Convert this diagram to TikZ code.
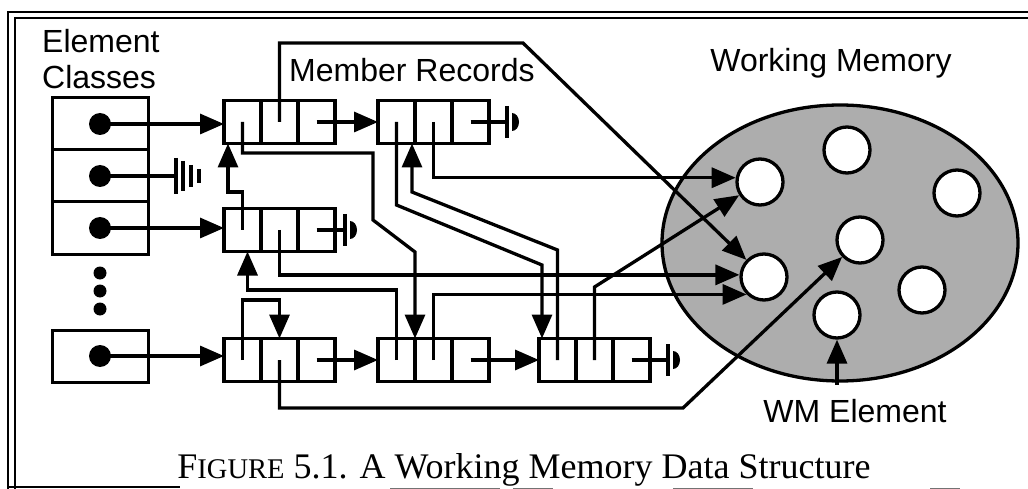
\documentclass[tikz,border=0pt]{standalone}
\usepackage{fontspec}
\setsansfont{Liberation Sans}
\newfontfamily\capfont{Liberation Serif}
\usetikzlibrary{positioning,shapes.geometric,arrows.meta}

\tikzset{
  cell/.style={draw, line width=3.3pt, minimum width=37pt, minimum height=43pt, inner sep=0pt, outer sep=0pt},
  clsbox/.style={draw, line width=3pt, minimum width=96pt, minimum height=52pt, inner sep=0pt, outer sep=0pt},
  link/.style={line width=3.3pt},
  ptr/.style={-{Triangle[length=24pt,width=20pt]}, line width=3.3pt},
  wme/.style={circle, draw, fill=white, line width=3.3pt, minimum size=46pt, inner sep=0pt},
  lbl/.style={font=\sffamily\fontsize{32}{36}\selectfont, inner sep=0pt},
  % nil pointer, drawn at the end of a line
  ground/.pic={
    \draw[line width=4pt] (0,-16) -- (0,16);
    \fill (5,-9) -- (5,9) arc[start angle=-90, end angle=90, x radius=7pt, y radius=9pt] -- cycle;
  },
  groundwide/.pic={
    \draw[line width=3.3pt] (0,-18) -- (0,18) (7,-15) -- (7,15) (15,-11) -- (15,11);
    \draw[line width=4pt] (23,-7) -- (23,7);
  }
}

% one member record = three cells #11, #12, #13
\newcommand{\memrec}[2]{%
  \node[cell] (#11) at #2 {};
  \node[cell, right=0pt of #11] (#12) {};
  \node[cell, right=0pt of #12] (#13) {};
}

\begin{document}
\begin{tikzpicture}[x=1pt,y=-1pt]
  \useasboundingbox (0,0) rectangle (1028,489);

  % page frame
  \draw[line width=2.4pt] (8,489) -- (8,12) -- (1028,12);
  \draw[line width=1.6pt] (15,489) -- (15,18) -- (1028,18);
  \draw[line width=1.6pt] (8,487) -- (180,487);
  \draw[black!55, line width=1pt] (390,488) -- (500,488) (513,488) -- (553,488)
    (673,488) -- (753,488) (930,488) -- (960,488);

  % element classes
  \node[lbl, align=left, anchor=north west] (cls) at (42,29) {Element\\Classes};
  \node[clsbox] (k1) at (100,124) {};
  \node[clsbox, below=0pt of k1] (k2) {};
  \node[clsbox, below=0pt of k2] (k3) {};
  \node[clsbox] (k4) at (100,356) {};
  \foreach \k in {k1,k2,k3,k4}
    \fill (\k) circle (11pt);
  \foreach \y in {273,291,309}
    \fill (100,\y) circle (6.5pt);

  % member records
  \node[lbl, anchor=base west] (mrl) at (289,82) {Member Records};
  \memrec{a}{(242.5,122)}
  \memrec{b}{(242.5,230)}
  \memrec{c}{(396.5,122)}
  \memrec{d}{(242.5,360)}
  \memrec{e}{(396.5,360)}
  \memrec{f}{(557.5,360)}

  % working memory
  \node[lbl, anchor=base] (wml) at (831,72) {Working Memory};
  \node[ellipse, draw, line width=3.3pt, fill=black!32, minimum width=356pt, minimum height=276pt] (wm) at (840,243) {};
  \node[wme] (w1) at (760,182) {};
  \node[wme] (w2) at (764,277) {};
  \node[wme] (w3) at (847,150) {};
  \node[wme] (w4) at (957,193) {};
  \node[wme] (w5) at (860,240) {};
  \node[wme] (w6) at (922,290) {};
  \node[wme] (w7) at (837,315) {};
  \node[lbl, anchor=base] (wmel) at (855,422) {WM Element};
  \draw[ptr] ([yshift=14pt]wmel.north -| w7.south) -- (w7.south);

  % class lists
  \draw[ptr] (k1.center) -- (k1.center -| a1.west);
  \draw[link] (k2.center) -- ++(76,0) pic {groundwide};
  \draw[ptr] (k3.center) -- (k3.center -| b1.west);
  \draw[ptr] (k4.center) -- (k4.center -| d1.west);

  % next pointers
  \draw[ptr] (a3.center) -- (c1.west);
  \draw[link] (c3.center) -- ++(36.5,0) pic {ground};
  \draw[link] (b3.center) -- ++(28.5,0) pic {ground};
  \draw[ptr] (d3.center) -- (e1.west);
  \draw[ptr] (e3.center) -- (f1.west);
  \draw[link] (f3.center) -- ++(36.5,0) pic {ground};

  % cross links between records
  \draw[ptr] (a1.center) -- ++(0,31) -- (373,153) -- (373,220) -- (415,252) -- (e2.north west);
  \draw[ptr] (b1.center) |- (228,192) -- (a1.south -| 228,0);
  \draw[ptr] (c1.center) -- ++(0,83) -- (542,265) -- (f1.north -| 542,0);
  \draw[ptr] (f1.center) -- ++(0,-110) -- (412,192) -- (c1.south -| 412,0);
  \draw[ptr] (d1.center) -- ++(0,-60) -| (d2.north);
  \draw[ptr] (e1.center) -- ++(0,-70) -| ([xshift=5pt]b1.south);

  % element pointers
  \draw[ptr] (a2.center) |- (523,43) -- (w2);
  \draw[ptr] (b2.center) |- (w2.175);
  \draw[ptr] (c2.center) |- (w1.170);
  \draw[ptr] (e2.center) |- (w2.225);
  \draw[ptr] (f2.center) -- ++(0,-73) -- (w1);
  \draw[ptr] (d2.center) -- ++(0,48) -- (683,408) -- (w5);

  % caption
  \node[anchor=base, inner sep=0pt, font=\capfont\fontsize{36}{40}\selectfont] (cap) at (524,478)
    {F{\fontsize{28.5}{32}\selectfont IGURE} 5.1. A Working Memory Data Structure};
\end{tikzpicture}
\end{document}
